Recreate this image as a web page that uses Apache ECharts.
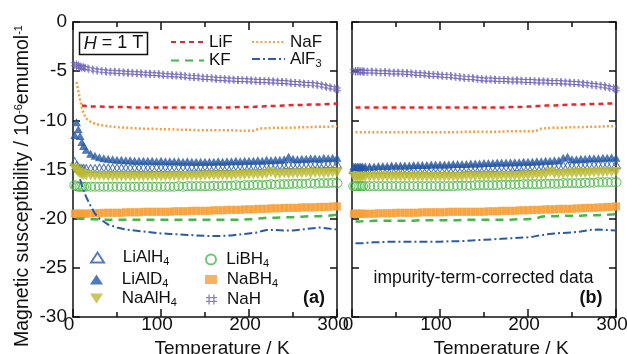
<!DOCTYPE html>
<html><head><meta charset="utf-8">
<script src="https://cdn.jsdelivr.net/npm/echarts@6/dist/echarts.min.js"></script>
<style>html,body{margin:0;padding:0;background:#fff}#c{width:627px;height:354px}</style>
</head><body><div id="c"></div>
<script>
// ---- data ----
const temps = [2,4,6,8,10,12,15,20,25,30,35,40,45,50,55,60,65,70,75,80,85,90,95,100,105,110,115,120,125,130,135,140,145,150,155,160,165,170,175,180,185,190,195,200,205,210,215,220,225,230,235,240,245,250,255,260,265,270,275,280,285,290,295,300];
const lineTemps = [4,6,8,10,12,15,20,25,30,40,50,60,70,80,90,100,110,120,130,140,150,160,170,180,190,200,205,210,215,220,230,240,250,260,270,280,290,300];

// panel (a)
const LiAlH4_a = [-14.2,-14.6,-14.8,-14.9,-14.9,-14.9,-14.9,
 -14.9,-14.9,-14.85,-14.85,-14.85,-14.85,-14.85,-14.85,-14.85,
 -14.85,-14.85,-14.85,-14.8,-14.85,-14.8,-14.8,-14.8,
 -14.8,-14.8,-14.8,-14.8,-14.8,-14.8,-14.75,-14.8,-14.75,-14.75,
 -14.75,-14.75,-14.7,-14.75,-14.7,-14.7,-14.7,-14.7,-14.65,-14.7,
 -14.65,-14.65,-14.6,-14.65,-14.6,-14.6,-14.55,-14.6,-14.5,-14.55,
 -14.55,-14.5,-14.5,-14.5,-14.45,-14.5,-14.45,-14.45,-14.4,-14.45];
const LiAlD4_a = [-11.5,-10.2,-10.9,-11.6,-12.2,-12.6,-13.0,
 -13.4,-13.6,-13.75,-13.85,-13.9,-13.95,-14.0,-14.0,-14.05,
 -14.05,-14.1,-14.1,-14.1,-14.1,-14.1,-14.15,-14.1,
 -14.15,-14.15,-14.15,-14.15,-14.2,-14.15,-14.2,-14.2,-14.2,-14.2,
 -14.2,-14.2,-14.15,-14.2,-14.15,-14.15,-14.1,-14.15,-14.1,-14.1,
 -14.1,-14.05,-14.1,-14.0,-14.05,-14.0,-14.0,-13.95,-13.7,-13.9,
 -13.95,-13.9,-13.9,-13.85,-13.85,-13.9,-13.8,-13.85,-13.8,-13.8];
const NaAlH4_a = [-14.9,-15.1,-15.3,-15.4,-15.5,-15.55,-15.6,
 -15.6,-15.65,-15.65,-15.65,-15.7,-15.7,-15.7,-15.7,-15.7,
 -15.7,-15.7,-15.7,-15.7,-15.7,-15.7,-15.7,-15.7,
 -15.7,-15.7,-15.65,-15.7,-15.65,-15.65,-15.65,-15.65,-15.65,-15.6,
 -15.6,-15.6,-15.6,-15.6,-15.6,-15.6,-15.55,-15.55,-15.55,-15.5,
 -15.5,-15.5,-15.5,-15.45,-15.3,-15.45,-15.45,-15.4,-15.45,-15.4,
 -15.4,-15.4,-15.35,-15.4,-15.35,-15.35,-15.4,-15.35,-15.3,-15.35];
const LiBH4_a = [-16.6,-16.7,-16.75,-16.75,-16.75,-16.75,-16.75,
 -16.75,-16.75,-16.75,-16.75,-16.75,-16.75,-16.75,-16.75,-16.75,
 -16.75,-16.75,-16.75,-16.75,-16.75,-16.75,-16.75,-16.75,
 -16.75,-16.75,-16.75,-16.7,-16.75,-16.7,-16.7,-16.7,-16.7,-16.7,
 -16.7,-16.65,-16.7,-16.65,-16.65,-16.65,-16.6,-16.65,-16.6,-16.6,
 -16.6,-16.55,-16.6,-16.55,-16.5,-16.55,-16.5,-16.5,-16.5,-16.45,
 -16.45,-16.45,-16.45,-16.4,-16.45,-16.4,-16.4,-16.4,-16.35,-16.4];
const NaBH4_a = [-19.5,-19.5,-19.5,-19.5,-19.5,-19.5,-19.5,
 -19.45,-19.45,-19.45,-19.4,-19.4,-19.4,-19.4,-19.4,-19.35,
 -19.35,-19.35,-19.35,-19.3,-19.3,-19.3,-19.3,-19.3,
 -19.3,-19.3,-19.25,-19.25,-19.25,-19.25,-19.2,-19.2,-19.2,-19.2,
 -19.2,-19.15,-19.15,-19.15,-19.1,-19.1,-19.1,-19.1,-19.05,-19.05,
 -19.05,-19.0,-19.0,-19.0,-18.95,-18.95,-18.95,-18.9,-18.9,-18.9,
 -18.9,-18.85,-18.85,-18.85,-18.85,-18.8,-18.8,-18.8,-18.75,-18.75];
const NaH_a = [-4.3,-4.4,-4.5,-4.55,-4.6,-4.65,-4.7,
 -4.8,-4.9,-4.95,-5.0,-5.05,-5.05,-5.1,-5.1,-5.15,
 -5.15,-5.2,-5.2,-5.25,-5.25,-5.3,-5.3,-5.35,
 -5.4,-5.4,-5.45,-5.45,-5.5,-5.55,-5.6,-5.6,-5.65,-5.7,
 -5.7,-5.75,-5.8,-5.8,-5.85,-5.85,-5.9,-5.9,-5.9,-5.95,
 -5.95,-6.0,-6.0,-6.0,-6.05,-6.05,-6.1,-6.1,-6.15,-6.2,
 -6.2,-6.25,-6.3,-6.3,-6.35,-6.4,-6.5,-6.6,-6.7,-6.85];
const LiF_a = [null,null,null,-8.5,-8.55,-8.55,
 -8.6,-8.6,-8.6,
 -8.65,-8.65,-8.65,-8.7,-8.7,-8.7,-8.7,-8.7,-8.7,-8.7,-8.7,-8.7,-8.7,-8.7,-8.7,-8.65,-8.65,
 -8.65,-8.6,-8.6,-8.55,
 -8.55,-8.5,-8.45,-8.45,-8.4,-8.4,-8.35,-8.3];
const NaF_a = [-6.1,-7.0,-7.9,-8.7,-9.3,-9.8,
 -10.15,-10.35,-10.45,
 -10.6,-10.7,-10.75,-10.8,-10.85,-10.85,-10.9,-10.9,-10.95,-10.95,-11.0,-11.0,-11.0,-11.0,-11.0,-11.05,-11.05,
 -11.05,-10.9,-10.8,-10.8,
 -10.75,-10.75,-10.75,-10.7,-10.7,-10.65,-10.65,-10.6];
const KF_a = [-20.0,-20.0,-20.0,-20.0,-20.0,-20.05,
 -20.05,-20.05,-20.1,
 -20.1,-20.1,-20.1,-20.1,-20.1,-20.1,-20.1,-20.1,-20.1,-20.1,-20.1,-20.1,-20.1,-20.1,-20.1,-20.1,-20.05,
 -20.05,-20.0,-19.95,-19.9,
 -19.9,-19.85,-19.85,-19.8,-19.75,-19.75,-19.7,-19.6];
const AlF3_a = [null,null,-16.0,-16.6,-17.1,-17.8,
 -18.7,-19.5,-20.0,
 -20.6,-20.9,-21.1,-21.2,-21.3,-21.4,-21.5,-21.55,-21.6,-21.65,-21.7,-21.75,-21.75,-21.75,-21.7,-21.6,-21.5,
 -21.45,-21.4,-21.25,-21.15,
 -21.15,-21.2,-21.2,-21.1,-21.0,-20.9,-21.0,-21.1];

// panel (b) impurity-term-corrected
const LiAlH4_b = [-15.0,-15.0,-15.0,-15.0,-15.0,-15.0,-15.0,
 -15.0,-15.0,-15.0,-15.0,-15.0,-14.95,-14.95,-14.95,-14.95,
 -14.95,-14.95,-14.95,-14.95,-14.95,-14.9,-14.95,-14.9,
 -14.9,-14.9,-14.9,-14.9,-14.9,-14.85,-14.85,-14.85,-14.85,-14.85,
 -14.85,-14.8,-14.8,-14.8,-14.8,-14.8,-14.75,-14.75,-14.75,-14.75,
 -14.7,-14.7,-14.7,-14.65,-14.65,-14.65,-14.6,-14.6,-14.6,-14.6,
 -14.55,-14.55,-14.55,-14.5,-14.5,-14.5,-14.5,-14.5,-14.45,-14.5];
const LiAlD4_b = [-14.7,-14.7,-14.7,-14.7,-14.7,-14.7,-14.7,
 -14.7,-14.7,-14.65,-14.65,-14.65,-14.6,-14.6,-14.6,-14.6,
 -14.6,-14.55,-14.55,-14.55,-14.55,-14.5,-14.5,-14.5,
 -14.5,-14.5,-14.45,-14.45,-14.45,-14.45,-14.4,-14.4,-14.4,-14.35,
 -14.35,-14.35,-14.3,-14.3,-14.3,-14.25,-14.25,-14.25,-14.2,-14.2,
 -14.2,-14.15,-14.15,-14.1,-14.1,-14.05,-14.05,-13.8,-13.7,-13.95,
 -13.95,-13.9,-13.9,-13.85,-13.85,-13.85,-13.8,-13.8,-13.75,-13.8];
const NaAlH4_b = [-15.7,-15.75,-15.75,-15.75,-15.75,-15.75,-15.75,
 -15.75,-15.75,-15.75,-15.75,-15.75,-15.75,-15.75,-15.75,-15.75,
 -15.75,-15.75,-15.75,-15.75,-15.75,-15.75,-15.75,-15.75,
 -15.75,-15.75,-15.75,-15.75,-15.75,-15.7,-15.7,-15.7,-15.7,-15.7,
 -15.7,-15.7,-15.7,-15.65,-15.65,-15.65,-15.65,-15.65,-15.6,-15.6,
 -15.6,-15.55,-15.55,-15.5,-15.3,-15.45,-15.45,-15.45,-15.4,-15.4,
 -15.4,-15.35,-15.35,-15.35,-15.3,-15.3,-15.3,-15.25,-15.25,-15.25];
const LiBH4_b = [-16.7,-16.7,-16.7,-16.7,-16.7,-16.7,-16.7,
 -16.7,-16.7,-16.7,-16.7,-16.7,-16.7,-16.7,-16.7,-16.7,
 -16.7,-16.7,-16.7,-16.7,-16.7,-16.7,-16.7,-16.7,
 -16.7,-16.7,-16.7,-16.65,-16.65,-16.65,-16.65,-16.6,-16.6,-16.6,
 -16.6,-16.6,-16.6,-16.55,-16.55,-16.55,-16.55,-16.55,-16.5,-16.5,
 -16.5,-16.5,-16.5,-16.45,-16.45,-16.45,-16.45,-16.4,-16.4,-16.4,
 -16.4,-16.4,-16.35,-16.35,-16.35,-16.3,-16.3,-16.3,-16.3,-16.3];
const NaBH4_b = [-19.5,-19.5,-19.5,-19.5,-19.5,-19.5,-19.5,
 -19.5,-19.5,-19.45,-19.45,-19.45,-19.45,-19.4,-19.4,-19.4,
 -19.4,-19.4,-19.4,-19.35,-19.35,-19.35,-19.35,-19.35,
 -19.35,-19.3,-19.3,-19.3,-19.3,-19.3,-19.3,-19.3,-19.3,-19.3,
 -19.25,-19.25,-19.25,-19.2,-19.2,-19.2,-19.2,-19.15,-19.15,-19.15,
 -19.1,-19.1,-19.1,-19.05,-19.05,-19.05,-19.0,-19.0,-19.0,-19.0,
 -18.95,-18.95,-18.9,-18.9,-18.9,-18.85,-18.85,-18.8,-18.8,-18.75];
const NaH_b = [-5.0,-5.0,-5.0,-5.0,-5.0,-5.05,-5.05,
 -5.05,-5.05,-5.1,-5.1,-5.1,-5.15,-5.15,-5.15,-5.2,
 -5.2,-5.25,-5.3,-5.3,-5.35,-5.4,-5.4,-5.45,
 -5.5,-5.5,-5.55,-5.6,-5.65,-5.7,-5.7,-5.75,-5.8,-5.85,
 -5.85,-5.85,-5.9,-5.9,-5.9,-5.95,-5.95,-5.95,-6.0,-6.0,
 -6.0,-6.05,-6.05,-6.05,-6.1,-6.1,-6.1,-6.15,-6.15,-6.2,
 -6.2,-6.25,-6.3,-6.35,-6.4,-6.45,-6.5,-6.6,-6.7,-6.85];
const LiF_b = [-8.7,-8.7,-8.7,-8.7,-8.7,-8.7,
 -8.7,-8.7,-8.7,
 -8.7,-8.7,-8.7,-8.7,-8.7,-8.7,-8.7,-8.7,-8.7,-8.7,-8.7,-8.7,-8.7,-8.7,-8.65,-8.65,-8.6,
 -8.6,-8.55,-8.55,-8.5,
 -8.5,-8.45,-8.4,-8.4,-8.35,-8.35,-8.3,-8.3];
const NaF_b = [-11.2,-11.2,-11.2,-11.2,-11.2,-11.2,
 -11.2,-11.2,-11.2,
 -11.2,-11.2,-11.2,-11.2,-11.2,-11.2,-11.2,-11.2,-11.2,-11.15,-11.15,-11.15,-11.15,-11.15,-11.1,-11.1,-11.1,
 -11.1,-11.05,-10.85,-10.8,
 -10.75,-10.75,-10.7,-10.7,-10.65,-10.65,-10.6,-10.6];
const KF_b = [-20.3,-20.3,-20.3,-20.25,-20.25,-20.25,
 -20.25,-20.2,-20.2,
 -20.2,-20.2,-20.2,-20.2,-20.15,-20.15,-20.15,-20.15,-20.15,-20.1,-20.1,-20.1,-20.1,-20.1,-20.1,-20.05,-20.05,
 -20.0,-19.95,-19.8,-19.75,
 -19.75,-19.7,-19.7,-19.7,-19.65,-19.65,-19.6,-19.55];
const AlF3_b = [-22.5,-22.5,-22.5,-22.5,-22.5,-22.45,
 -22.45,-22.4,-22.4,
 -22.35,-22.35,-22.35,-22.35,-22.35,-22.35,-22.35,-22.3,-22.3,-22.25,-22.2,-22.15,-22.1,-22.05,-22.0,-21.95,-21.9,
 -21.85,-21.75,-21.7,-21.6,
 -21.5,-21.45,-21.4,-21.3,-21.15,-21.1,-21.15,-21.2];

const xTicks = {min: 0, max: 300, interval: 100};
const yTicks = {min: -30, max: 0, interval: 5};

// ---- styling / building ----
const FF = 'Liberation Sans';
const INK = '#111';
const C = {LiF:'#e8262b', NaF:'#f5a040', KF:'#45b649', AlF3:'#2b5ba8',
  LiAlH4:'#2a5aa8', LiAlD4:'#2457a5', NaAlH4:'#b9b935', LiBH4:'#4db848', NaBH4:'#f6a03a', NaH:'#6d62b8'};
const HASH = 'path://M2.2,0h1.2v10h-1.2z M6.6,0h1.2v10h-1.2z M0,2.6h10v1.2h-10z M0,6.2h10v1.2h-10z';
const DOWN_TRI = 'path://M0,0L10,0L5,9Z';

const markerDefs = {
  LiAlH4: {symbol:'triangle', symbolSize:[9,8], itemStyle:{color:'rgba(255,255,255,0)', borderColor:C.LiAlH4, borderWidth:1}},
  LiAlD4: {symbol:'triangle', symbolSize:[9,8], itemStyle:{color:C.LiAlD4}},
  NaAlH4: {symbol:DOWN_TRI, symbolSize:[11,10], symbolKeepAspect:false, itemStyle:{color:C.NaAlH4}},
  LiBH4: {symbol:'circle', symbolSize:[10,9], itemStyle:{color:'rgba(255,255,255,0)', borderColor:C.LiBH4, borderWidth:1}},
  NaBH4: {symbol:'rect', symbolSize:[8,8], itemStyle:{color:C.NaBH4}},
  NaH: {symbol:HASH, symbolSize:[8,8], itemStyle:{color:C.NaH}}
};
const lineDefs = {
  LiF: {color:C.LiF, width:2.5, type:[5,4]},
  NaF: {color:C.NaF, width:2.5, type:[2,2.2]},
  KF: {color:C.KF, width:2.5, type:[8,6]},
  AlF3: {color:C.AlF3, width:2, type:[8,3,2,3]}
};

function pairs(xs, ys){ const out=[]; xs.forEach((x,i)=>{ if(ys[i]!==null) out.push([x, ys[i]]); }); return out; }
function sc(name, ys, ax){ const d = markerDefs[name];
  return Object.assign({type:'scatter', name, xAxisIndex:ax, yAxisIndex:ax, data:pairs(temps, ys), silent:true}, d); }
function ln(name, ys, ax){ const s = lineDefs[name];
  return {type:'line', name, xAxisIndex:ax, yAxisIndex:ax, data:pairs(lineTemps, ys), symbol:'none', showSymbol:false,
    lineStyle:{color:s.color, width:s.width, type:s.type}, itemStyle:{color:s.color}, silent:true, z:3}; }

const series = [
  sc('LiAlH4', LiAlH4_a, 0), sc('LiAlD4', LiAlD4_a, 0), sc('NaAlH4', NaAlH4_a, 0),
  sc('LiBH4', LiBH4_a, 0), sc('NaBH4', NaBH4_a, 0), sc('NaH', NaH_a, 0),
  ln('LiF', LiF_a, 0), ln('NaF', NaF_a, 0), ln('KF', KF_a, 0), ln('AlF3', AlF3_a, 0),
  sc('LiAlH4', LiAlH4_b, 2), sc('LiAlD4', LiAlD4_b, 2), sc('NaAlH4', NaAlH4_b, 2),
  sc('LiBH4', LiBH4_b, 2), sc('NaBH4', NaBH4_b, 2), sc('NaH', NaH_b, 2),
  ln('LiF', LiF_b, 2), ln('NaF', NaF_b, 2), ln('KF', KF_b, 2), ln('AlF3', AlF3_b, 2)
];

const axLine = {show:true, onZero:false, lineStyle:{color:INK, width:1.5}};
const tickStyle = {color:INK, width:1.5};
function xAx(grid, pos, showLabel){
  return Object.assign({type:'value', gridIndex:grid, position:pos, axisLine:axLine,
    axisTick:{show:true, inside:true, length:8, lineStyle:tickStyle},
    minorTick:{show:true, splitNumber:2, length:5, lineStyle:tickStyle},
    splitLine:{show:false}, minorSplitLine:{show:false},
    axisLabel:{show:showLabel, fontSize:19, fontFamily:FF, color:INK, margin:-2, padding:[0,8,0,0]},
    name: showLabel ? 'Temperature / K' : '', nameLocation:'middle', nameGap:14,
    nameTextStyle:{fontSize:19, fontFamily:FF, color:INK, padding:[0,0,0,34]}}, xTicks);
}
function yAx(grid, pos, showLabel){
  return Object.assign({type:'value', gridIndex:grid, position:pos, axisLine:axLine,
    axisTick:{show:true, inside:true, length:7, lineStyle:tickStyle},
    splitLine:{show:false},
    axisLabel:{show:showLabel, fontSize:19, fontFamily:FF, color:INK, margin:6}}, yTicks);
}
const yName = {
  name:'Magnetic susceptibility / 10{sup|-6}emumol{sup|-1}', nameLocation:'middle', nameGap:40,
  nameTextStyle:{fontSize:19.5, fontFamily:FF, color:INK, padding:[0,33,0,0],
    rich:{sup:{fontSize:11, fontFamily:FF, color:INK, padding:[0,0,9,0]}}}
};

const subStyle = {fontSize:11, fontFamily:FF, color:INK, padding:[9,0,0,0]};
function lg(name, label, left, top, w, h, pad, hideSymbol){
  const o = {data:[name], left, top, padding:0, itemWidth:w, itemHeight:h, symbolKeepAspect:false,
    selectedMode:false, formatter:()=>label,
    textStyle:{fontSize:17, fontFamily:FF, color:INK, padding:[0,0,0,pad], rich:{s:subStyle}}};
  if (hideSymbol) o.itemStyle = {opacity:0};
  return o;
}
const legends = [
  lg('LiF','LiF',170,33.5,33,12,0,true), lg('NaF','NaF',251,33.5,33,12,0,true),
  lg('KF','KF',170,52,33,12,0,true), lg('AlF3','AlF{s|3}',251,50.5,33,12,0,true),
  lg('LiAlH4','LiAlH{s|4}',90,249,13,10,13.7), lg('LiAlD4','LiAlD{s|4}',90,271,13,10,13.7),
  lg('NaAlH4','NaAlH{s|4}',90,290,13,10,13.7),
  lg('LiBH4','LiBH{s|4}',205,251,13,10,3.7), lg('NaBH4','NaBH{s|4}',205,271,12,9,4.7),
  lg('NaH','NaH',206,291,11,10,5)
];

const option = {
  animation:false,
  backgroundColor:'#fff',
  grid:[{left:73, right:290, top:22, bottom:37, outerBoundsMode:'none', containLabel:false},
        {left:352, right:11, top:22, bottom:37, outerBoundsMode:'none', containLabel:false}],
  xAxis:[xAx(0,'bottom',true), xAx(0,'top',false), xAx(1,'bottom',true), xAx(1,'top',false)],
  yAxis:[Object.assign(yAx(0,'left',true), yName), yAx(0,'right',false), yAx(1,'left',false), yAx(1,'right',false)],
  legend:legends,
  series:series,
  graphic:[
    {type:'rect', shape:{x:79.5, y:32.5, width:68, height:22}, style:{fill:'#fff', stroke:INK, lineWidth:1.5}, z:10},
    {type:'text', x:113.5, y:43.5, z:11, style:{text:'{i|H} = 1 T', align:'center', verticalAlign:'middle',
      fontSize:18, fontFamily:FF, fill:INK, rich:{i:{fontSize:18, fontFamily:FF, fontStyle:'italic', color:INK}}}},
    {type:'text', x:314, y:298, z:11, style:{text:'(a)', align:'center', verticalAlign:'middle', font:'bold 18px "Liberation Sans"', fill:INK}},
    {type:'text', x:591, y:298, z:11, style:{text:'(b)', align:'center', verticalAlign:'middle', font:'bold 18px "Liberation Sans"', fill:INK}},
    {type:'text', x:483.5, y:278, z:11, style:{text:'impurity-term-corrected data', align:'center', verticalAlign:'middle', font:'17.5px "Liberation Sans"', fill:INK}}
  ]
};
const chart = echarts.init(document.getElementById('c'), null, {renderer:'canvas'});
chart.setOption(option);
</script></body></html>
